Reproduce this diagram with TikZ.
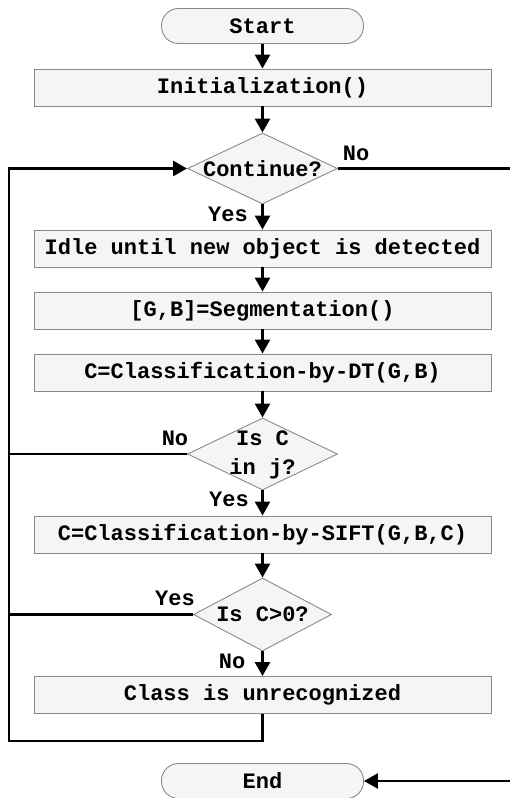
\documentclass[tikz,border=0pt]{standalone}
\usepackage{fontspec}
\setmonofont{Liberation Mono}
\usetikzlibrary{shapes.geometric,arrows.meta}
\definecolor{boxfill}{HTML}{F5F5F5}
\definecolor{boxline}{HTML}{8A8A8A}
\begin{document}
\begin{tikzpicture}[x=1pt,y=-1pt,
  every node/.style={font=\ttfamily\bfseries\fontsize{22}{29}\selectfont, inner sep=0pt},
  proc/.style={draw=boxline, fill=boxfill, line width=0.9pt, minimum width=457pt, minimum height=37pt},
  term/.style={draw=boxline, fill=boxfill, line width=0.9pt, rounded corners=17pt, minimum width=202pt, minimum height=35pt},
  dec/.style={draw=boxline, fill=boxfill, line width=0.9pt, diamond, inner sep=0pt},
  conn/.style={line width=2.6pt, black},
  arr/.style={conn, -{Triangle[length=14pt,width=15pt]}},
  lbl/.style={black}]
\useasboundingbox (0,0) rectangle (510,798);
\clip (0,0) rectangle (510,798);

\node[term] (start) at (262.5,26) {Start};
\node[proc] (init) at (262.5,87.5) {Initialization()};
\node[dec, minimum width=150pt, minimum height=71pt, label={center:Continue?}] (cont) at (262.5,168.5) {};
\node[proc] (idle) at (262.5,248.5) {Idle until new object is detected};
\node[proc] (seg) at (262.5,310.5) {[G,B]=Segmentation()};
\node[proc] (dt) at (262.5,372.5) {C=Classification-by-DT(G,B)};
\node[dec, minimum width=150pt, minimum height=72pt] (inj) at (262.5,454) {};
\node[align=center] (injtxt) at (262.5,455) {Is C\\in j?};
\node[proc] (sift) at (262.5,534.5) {C=Classification-by-SIFT(G,B,C)};
\node[dec, minimum width=138pt, minimum height=73pt, label={center:Is C>0?}] (cgt) at (262.5,614.5) {};
\node[proc] (unrec) at (262.5,695) {Class is unrecognized};
\node[term] (end) at (262.5,781) {End};

\node[lbl] (no1) at (356,153) {No};
\node[lbl] (yes1) at (228,214) {Yes};
\node[lbl] (no2) at (175,438) {No};
\node[lbl] (yes2) at (229,499) {Yes};
\node[lbl] (yes3) at (175,598) {Yes};
\node[lbl] (no3) at (232,661) {No};

\coordinate (lb) at (9,741);
\coordinate (lt) at (9,168.5);
\coordinate (r1) at (520,168.5);
\coordinate (r2) at (520,781);

\draw[arr] (start) -- (init);
\draw[arr] (init) -- (cont);
\draw[arr] (cont) -- (idle);
\draw[arr] (idle) -- (seg);
\draw[arr] (seg) -- (dt);
\draw[arr] (dt) -- (inj);
\draw[arr] (inj) -- (sift);
\draw[arr] (sift) -- (cgt);
\draw[arr] (cgt) -- (unrec);

\draw[arr] (unrec.south) |- (lb) -- (lt) -- (cont.west);
\draw[conn] (inj.west) -- (inj.west -| lb);
\draw[conn] (cgt.west) -- (cgt.west -| lb);
\draw[arr] (cont.east) -- (r1) -- (r2) -- (end.east);
\end{tikzpicture}
\end{document}
